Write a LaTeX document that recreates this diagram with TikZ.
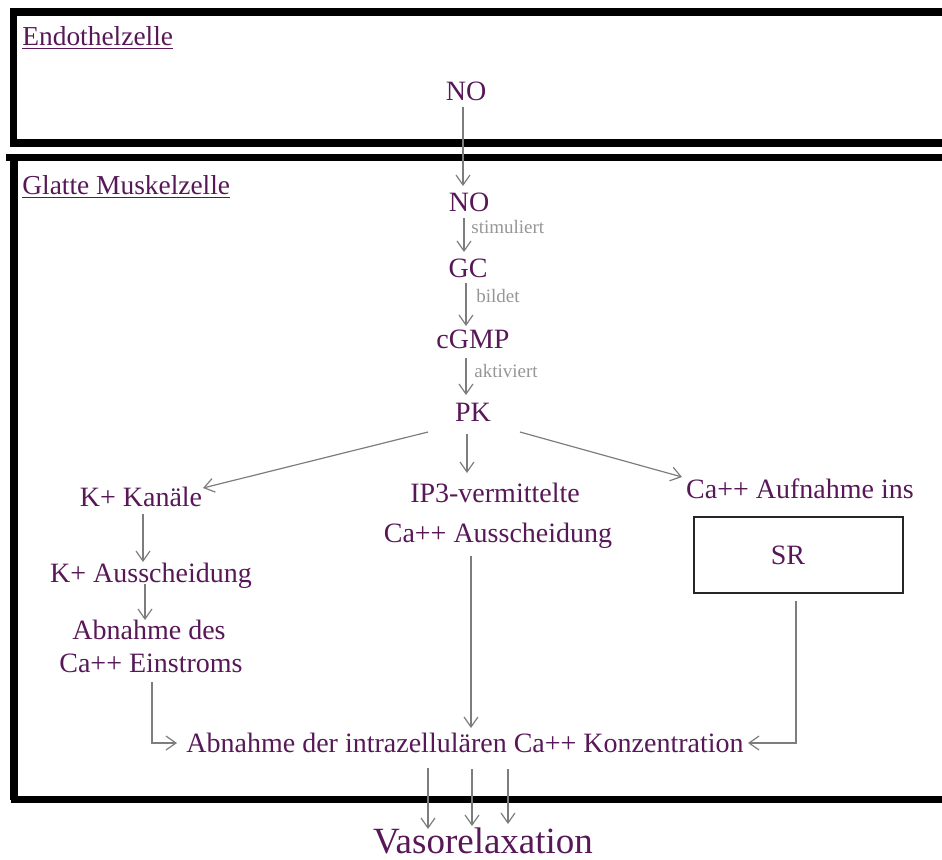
\documentclass[tikz,border=0pt]{standalone}
\usepackage{fontspec}
\setmainfont{Liberation Serif}
\usetikzlibrary{arrows.meta,calc}
\definecolor{txtc}{RGB}{88,24,88}
\definecolor{lblc}{RGB}{150,150,150}
\definecolor{arrc}{RGB}{125,125,125}
\tikzset{
  txt/.style={text=txtc, font=\fontsize{14}{16}\selectfont, inner sep=0pt, anchor=base},
  head/.style={text=txtc, font=\fontsize{13.7}{16}\selectfont, inner sep=0pt, anchor=base west},
  lbl/.style={text=lblc, font=\fontsize{9.5}{11}\selectfont, inner sep=0pt, anchor=base west},
  arr/.style={draw=arrc, line width=0.6pt, -{Straight Barb[length=5pt,width=7pt,line width=0.6pt]}},
  cell/.style={draw=black, line width=3.6pt},
}
\begin{document}
\begin{tikzpicture}[x=0.5pt,y=-0.5pt]
\useasboundingbox (0,0) rectangle (942,859);
% cells
\draw[cell] (960,12) -| (13.5,143) -- (960,143);
\draw[cell] (960,157.5) -- (6,157.5);
\draw[cell] (14,157.5) -- (14,799.5);
\draw[cell] (11,799.5) -- (960,799.5);
% headings
\node[head] (endo) at (22,45) {\underline{Endothelzelle}};
\node[head] (glatt) at (22,194) {\underline{Glatte Muskelzelle}};
% nodes
\node[txt] (no1) at (466,100) {NO};
\node[txt] (no2) at (469,211) {NO};
\node[txt] (gc) at (468,277) {GC};
\node[txt] (cgmp) at (473,348) {cGMP};
\node[txt] (pk) at (473,421) {PK};
\node[lbl] (stim) at (471,233) {stimuliert};
\node[lbl] (bild) at (476,302) {bildet};
\node[lbl] (akt) at (474,377) {aktiviert};
\node[txt] (kk) at (141,506) {K+ Kanäle};
\node[txt] (ip3a) at (495,502) {IP3-vermittelte};
\node[txt] (ip3b) at (498,542) {Ca++ Ausscheidung};
\node[txt] (auf) at (800,498) {Ca++ Aufnahme ins};
\node[draw=black!85, line width=0.9pt, minimum width=104.5pt, minimum height=38pt, inner sep=0pt] (srbox) at (798.5,555) {};
\node[txt] (sr) at (788,564) {SR};
\node[txt] (kaus) at (151,582) {K+ Ausscheidung};
\node[txt] (abn1) at (149,639) {Abnahme des};
\node[txt] (abn2) at (151,672) {Ca++ Einstroms};
\node[txt] (conc) at (465,752) {Abnahme der intrazellulären Ca++ Konzentration};
\node[txt, font=\fontsize{18.5}{20}\selectfont] (vaso) at (483,853) {Vasorelaxation};
% connectors
\draw[arr] ($(no1.base)+(-3,7)$) -- ($(no2.base)+(-6,-25)$);
\draw[arr] ($(no2.base)+(-5,7)$) -- ($(gc.base)+(-4,-25)$);
\draw[arr] ($(gc.base)+(-2,6)$) -- ($(cgmp.base)+(-7,-22)$);
\draw[arr] ($(cgmp.base)+(-7,10)$) -- ($(pk.base)+(-7,-26)$);
\draw[arr] ($(pk.base)+(-45,11)$) -- ($(kk.base)+(62,-18)$);
\draw[arr] ($(pk.base)+(-6,13)$) -- ($(ip3a.base)+(-28,-29)$);
\draw[arr] ($(pk.base)+(47,11)$) -- ($(auf.base)+(-118,-21)$);
\draw[arr] ($(kk.base)+(2,8)$) -- ($(kaus.base)+(-8,-20)$);
\draw[arr] ($(kaus.base)+(-6,2)$) -- ($(abn1.base)+(-4,-19)$);
\draw[arr] ($(abn2.base)+(1,10)$) |- ($(conc.base)+(-288,-9)$);
\draw[arr] ($(ip3b.base)+(-27,14)$) -- ($(conc.base)+(6,-24)$);
\draw[arr] ($(srbox.south)+(-2.5,7)$) |- ($(conc.base)+(283,-9)$);
\draw[arr] ($(conc.base)+(-37,16)$) -- ($(vaso.base)+(-55,-24)$);
\draw[arr] ($(conc.base)+(7,17)$) -- ($(vaso.base)+(-11,-27)$);
\draw[arr] ($(conc.base)+(43,17)$) -- ($(vaso.base)+(25,-29)$);
\end{tikzpicture}
\end{document}
